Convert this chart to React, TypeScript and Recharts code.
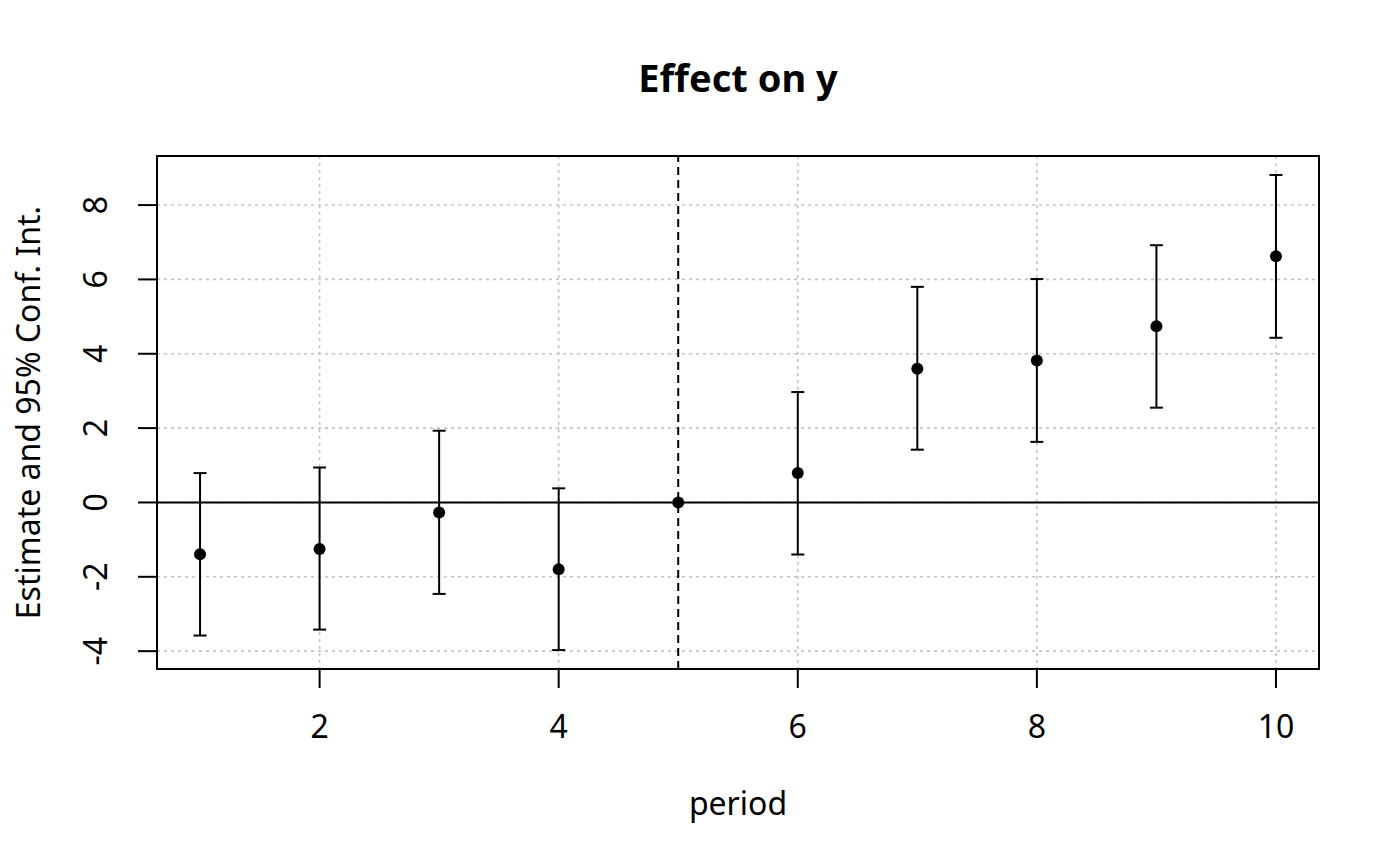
import React from "react";
import {
  ScatterChart,
  Scatter,
  ErrorBar,
  XAxis,
  YAxis,
  CartesianGrid,
  ReferenceLine,
  ReferenceArea,
  Label,
} from "recharts";

// ---- Data -------------------------------------------------------------------
const periods = [1, 2, 3, 4, 5, 6, 7, 8, 9, 10];
const estimates = [-1.39, -1.25, -0.27, -1.8, 0, 0.79, 3.6, 3.82, 4.74, 6.62];
const lowerCI = [-3.58, -3.42, -2.46, -3.97, null, -1.4, 1.42, 1.63, 2.55, 4.43];
const upperCI = [0.79, 0.94, 1.93, 0.38, null, 2.97, 5.8, 6.01, 6.92, 8.81];

const xTicks = [2, 4, 6, 8, 10];
const yTicks = [-4, -2, 0, 2, 4, 6, 8];
const refPeriod = 5;

// R-style axis ranges (4% padding)
const X_DOMAIN: [number, number] = [0.64, 10.36];
const Y_DOMAIN: [number, number] = [-4.48, 9.32];

const FONT = "'Noto Sans', 'Open Sans', sans-serif";

const rows = periods.map((p, i) => {
  const lo = lowerCI[i];
  const hi = upperCI[i];
  return {
    period: p,
    estimate: estimates[i],
    err: lo == null || hi == null ? null : [estimates[i] - lo, hi - estimates[i]],
  };
});

const XTick = ({ x, y, payload }: any) => (
  <text x={x} y={y} textAnchor="middle" fontSize={32} fontFamily={FONT} fill="#000">
    {payload.value}
  </text>
);

const YTick = ({ x, y, payload }: any) => (
  <text
    x={x}
    y={y}
    textAnchor="middle"
    fontSize={32}
    fontFamily={FONT}
    fill="#000"
    transform={`rotate(-90, ${x}, ${y})`}
  >
    {payload.value}
  </text>
);

const Dot = (props: any) => <circle cx={props.cx} cy={props.cy} r={6} fill="#000" />;

export default function App() {
  return (
    <div style={{ position: "absolute", left: 0, top: 0, width: 1400, height: 866, background: "#fff" }}>
      <div
        style={{
          position: "absolute",
          left: 0,
          width: 1476,
          top: 58,
          textAlign: "center",
          fontFamily: FONT,
          fontWeight: 700,
          fontSize: 38,
          lineHeight: "38px",
        }}
      >
        Effect on y
      </div>
      <ScatterChart
        width={1400}
        height={866}
        margin={{ top: 156, right: 81, bottom: 137, left: 0 }}
        style={{ fontFamily: FONT }}
      >
        <CartesianGrid
          stroke="#c4c4c4"
          strokeWidth={1.6}
          strokeDasharray="3 4"
          horizontalValues={yTicks}
          verticalValues={xTicks}
        />
        <XAxis
          type="number"
          dataKey="period"
          domain={X_DOMAIN}
          ticks={xTicks}
          allowDataOverflow
          height={60}
          axisLine={false}
          tickLine={{ stroke: "#000", strokeWidth: 2 }}
          tickSize={19}
          tickMargin={50}
          tick={<XTick />}
          interval={0}
        >
          <Label value="period" position="bottom" offset={63} fontSize={32} fill="#000" fontFamily={FONT} />
        </XAxis>
        <YAxis
          type="number"
          dataKey="estimate"
          domain={Y_DOMAIN}
          ticks={yTicks}
          allowDataOverflow
          width={157}
          axisLine={false}
          tickLine={{ stroke: "#000", strokeWidth: 2 }}
          tickSize={19}
          tickMargin={31}
          tick={<YTick />}
          interval={0}
        >
          <Label
            value="Estimate and 95% Conf. Int."
            position="center"
            angle={-90}
            dx={-50}
            fontSize={32}
            fill="#000"
            fontFamily={FONT}
          />
        </YAxis>
        <ReferenceLine x={refPeriod} stroke="#000" strokeWidth={2} strokeDasharray="8 5" />
        <ReferenceLine y={0} stroke="#000" strokeWidth={2} />
        <ReferenceArea
          x1={X_DOMAIN[0]}
          x2={X_DOMAIN[1]}
          y1={Y_DOMAIN[0]}
          y2={Y_DOMAIN[1]}
          fill="none"
          fillOpacity={0}
          stroke="#000"
          strokeWidth={2}
        />
        <Scatter data={rows} shape={<Dot />} isAnimationActive={false}>
          <ErrorBar
            dataKey="err"
            direction="y"
            width={6.5}
            stroke="#000"
            strokeWidth={2}
            isAnimationActive={false}
          />
        </Scatter>
      </ScatterChart>
    </div>
  );
}
